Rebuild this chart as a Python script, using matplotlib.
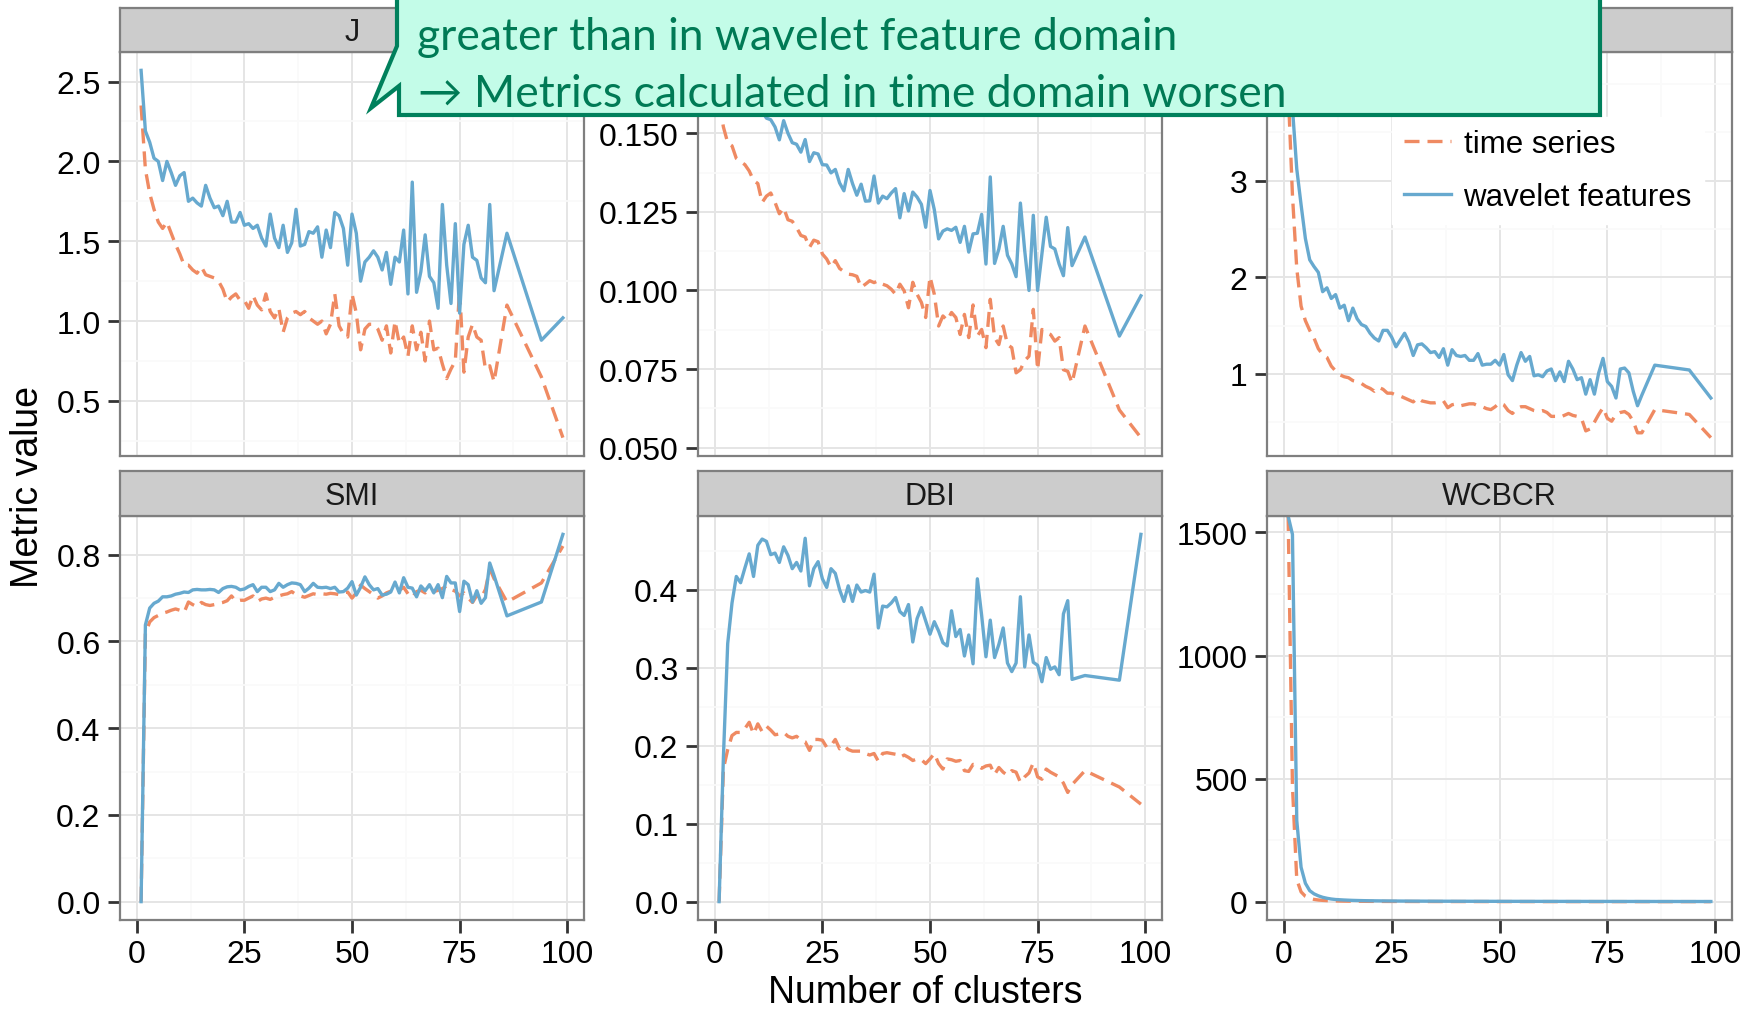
import matplotlib
matplotlib.use('Agg')
import matplotlib.pyplot as plt
from matplotlib.lines import Line2D
from matplotlib.patches import Polygon
from matplotlib.ticker import AutoMinorLocator, FixedLocator
import numpy as np

plt.rcParams['font.family'] = 'Liberation Sans'

W, H = 1757, 1012

# number of clusters
k = list(range(1, 84)) + [86, 94, 99]

j_ts = [2.35, 1.95, 1.80, 1.70, 1.62, 1.58, 1.62, 1.55, 1.48, 1.42,
        1.35, 1.35, 1.32, 1.30, 1.34, 1.29, 1.28, 1.27, 1.25, 1.20,
        1.12, 1.15, 1.17, 1.13, 1.13, 1.08, 1.16, 1.10, 1.07, 1.17,
        1.06, 1.02, 1.08, 0.93, 1.02, 1.05, 1.06, 1.04, 1.06, 1.02,
        1.00, 0.98, 1.00, 0.92, 0.98, 1.17, 0.97, 0.92, 0.90, 1.17,
        1.05, 0.82, 0.95, 0.98, 0.98, 0.95, 0.88, 0.97, 0.80, 1.00,
        0.86, 0.90, 0.78, 0.97, 0.82, 0.93, 0.75, 1.00, 0.82, 0.83,
        0.73, 0.64, 0.70, 0.75, 1.20, 0.68, 0.90, 0.98, 0.90, 0.88,
        0.70, 0.72, 0.62, 1.10, 0.65, 0.27]
j_wf = [2.57, 2.19, 2.12, 2.02, 2.00, 1.88, 2.00, 1.93, 1.85, 1.91,
        1.93, 1.75, 1.77, 1.74, 1.72, 1.85, 1.77, 1.71, 1.72, 1.66,
        1.75, 1.62, 1.62, 1.68, 1.60, 1.61, 1.58, 1.60, 1.52, 1.47,
        1.67, 1.52, 1.46, 1.60, 1.43, 1.49, 1.70, 1.47, 1.48, 1.56,
        1.55, 1.59, 1.40, 1.57, 1.46, 1.68, 1.66, 1.58, 1.35, 1.67,
        1.55, 1.25, 1.37, 1.40, 1.44, 1.40, 1.32, 1.43, 1.23, 1.40,
        1.37, 1.57, 1.17, 1.87, 1.18, 1.31, 1.54, 1.28, 1.24, 1.08,
        1.73, 1.35, 1.11, 1.61, 1.05, 1.48, 1.60, 1.40, 1.38, 1.27,
        1.24, 1.73, 1.19, 1.55, 0.88, 1.02]

m2_ts = [0.160, 0.152, 0.147, 0.146, 0.142, 0.141, 0.140, 0.138, 0.135, 0.134,
         0.128, 0.130, 0.131, 0.128, 0.1244, 0.1263, 0.1225, 0.122, 0.120, 0.1175,
         0.117, 0.1137, 0.116, 0.1155, 0.1116, 0.110, 0.1074, 0.1095, 0.107, 0.106,
         0.1052, 0.105, 0.1045, 0.101, 0.102, 0.1031, 0.1025, 0.1031, 0.102, 0.1015,
         0.1004, 0.0988, 0.102, 0.0999, 0.0945, 0.1026, 0.0988, 0.0962, 0.0914, 0.1044,
         0.0988, 0.0887, 0.0919, 0.0905, 0.093, 0.0914, 0.086, 0.0924, 0.085, 0.0954,
         0.0855, 0.0876, 0.0818, 0.0972, 0.085, 0.0828, 0.0887, 0.0828, 0.0818, 0.0738,
         0.0748, 0.0777, 0.0791, 0.094, 0.0748, 0.0876, 0.0866, 0.086, 0.0839, 0.085,
         0.0748, 0.0743, 0.0706, 0.0887, 0.062, 0.0532]
m2_wf = [0.170, 0.168, 0.167, 0.165, 0.164, 0.163, 0.162, 0.160, 0.159, 0.158,
         0.157, 0.1548, 0.1543, 0.152, 0.1479, 0.154, 0.150, 0.147, 0.1465, 0.144,
         0.148, 0.141, 0.1438, 0.1434, 0.140, 0.1399, 0.1374, 0.1385, 0.1342, 0.1317,
         0.1385, 0.134, 0.1303, 0.1338, 0.1284, 0.1285, 0.1364, 0.1278, 0.130, 0.1292,
         0.131, 0.1324, 0.1231, 0.1308, 0.1253, 0.1313, 0.1297, 0.1274, 0.1201, 0.1318,
         0.1257, 0.1164, 0.1189, 0.1196, 0.1191, 0.1201, 0.1153, 0.1204, 0.1122, 0.118,
         0.1182, 0.1242, 0.1084, 0.1361, 0.1086, 0.1132, 0.1204, 0.1112, 0.1084, 0.1044,
         0.1278, 0.1127, 0.100, 0.1239, 0.100, 0.1116, 0.1233, 0.114, 0.1132, 0.1084,
         0.1047, 0.120, 0.1079, 0.117, 0.0855, 0.0983]

m3_ts = [3.95, 2.85, 2.09, 1.70, 1.55, 1.45, 1.37, 1.26, 1.20, 1.17,
         1.08, 1.03, 0.99, 0.97, 0.96, 0.93, 0.92, 0.90, 0.87, 0.85,
         0.82, 0.86, 0.84, 0.80, 0.80, 0.78, 0.77, 0.75, 0.73, 0.71,
         0.75, 0.72, 0.71, 0.70, 0.70, 0.71, 0.72, 0.65, 0.68, 0.69,
         0.67, 0.68, 0.69, 0.69, 0.67, 0.66, 0.64, 0.63, 0.66, 0.70,
         0.68, 0.62, 0.59, 0.64, 0.66, 0.66, 0.64, 0.62, 0.61, 0.62,
         0.60, 0.56, 0.56, 0.55, 0.57, 0.59, 0.57, 0.56, 0.54, 0.41,
         0.43, 0.50, 0.58, 0.65, 0.54, 0.51, 0.58, 0.60, 0.61, 0.58,
         0.51, 0.39, 0.39, 0.63, 0.58, 0.34]
m3_wf = [4.14, 3.75, 3.12, 2.75, 2.40, 2.18, 2.11, 2.05, 1.85, 1.89,
         1.78, 1.82, 1.68, 1.71, 1.55, 1.68, 1.57, 1.51, 1.49, 1.42,
         1.37, 1.34, 1.45, 1.45, 1.38, 1.28, 1.35, 1.42, 1.33, 1.19,
         1.30, 1.31, 1.27, 1.22, 1.23, 1.17, 1.26, 1.09, 1.25, 1.19,
         1.18, 1.19, 1.14, 1.14, 1.21, 1.09, 1.10, 1.10, 1.14, 1.09,
         1.20, 0.99, 0.93, 1.09, 1.22, 1.13, 1.18, 0.98, 0.99, 0.97,
         1.03, 1.05, 0.93, 1.02, 0.92, 1.13, 1.05, 0.94, 0.96, 0.79,
         0.94, 0.79, 1.01, 1.16, 0.92, 0.87, 0.75, 1.05, 1.06, 1.01,
         0.82, 0.67, 0.78, 1.09, 1.04, 0.75]

smi_ts = [0.0, 0.618, 0.645, 0.655, 0.660, 0.665, 0.668, 0.672, 0.675, 0.672,
          0.667, 0.691, 0.685, 0.680, 0.690, 0.685, 0.683, 0.685, 0.688, 0.690,
          0.694, 0.705, 0.693, 0.695, 0.695, 0.700, 0.705, 0.692, 0.698, 0.700,
          0.697, 0.702, 0.705, 0.708, 0.710, 0.715, 0.708, 0.705, 0.702, 0.706,
          0.710, 0.708, 0.710, 0.709, 0.711, 0.710, 0.708, 0.712, 0.714, 0.700,
          0.712, 0.730, 0.722, 0.715, 0.708, 0.700, 0.705, 0.712, 0.716, 0.722,
          0.718, 0.725, 0.710, 0.702, 0.715, 0.718, 0.712, 0.720, 0.715, 0.718,
          0.722, 0.728, 0.720, 0.716, 0.705, 0.712, 0.700, 0.690, 0.706, 0.700,
          0.720, 0.768, 0.745, 0.691, 0.735, 0.820]
smi_wf = [0.0, 0.638, 0.677, 0.688, 0.693, 0.703, 0.703, 0.705, 0.709, 0.711,
          0.714, 0.713, 0.719, 0.720, 0.719, 0.719, 0.720, 0.719, 0.713, 0.722,
          0.726, 0.727, 0.725, 0.719, 0.721, 0.727, 0.731, 0.715, 0.725, 0.725,
          0.715, 0.719, 0.734, 0.725, 0.731, 0.735, 0.734, 0.731, 0.715, 0.723,
          0.734, 0.725, 0.724, 0.725, 0.722, 0.725, 0.714, 0.715, 0.723, 0.738,
          0.707, 0.725, 0.749, 0.731, 0.719, 0.722, 0.707, 0.709, 0.714, 0.737,
          0.712, 0.747, 0.725, 0.723, 0.703, 0.728, 0.717, 0.731, 0.712, 0.731,
          0.701, 0.750, 0.735, 0.735, 0.669, 0.739, 0.731, 0.691, 0.717, 0.688,
          0.701, 0.781, 0.752, 0.659, 0.691, 0.847]

dbi_ts = [0.0, 0.17, 0.195, 0.213, 0.217, 0.217, 0.222, 0.230, 0.215, 0.228,
          0.218, 0.225, 0.220, 0.214, 0.215, 0.217, 0.212, 0.210, 0.212, 0.207,
          0.205, 0.194, 0.208, 0.208, 0.207, 0.198, 0.200, 0.208, 0.196, 0.200,
          0.195, 0.193, 0.193, 0.193, 0.190, 0.188, 0.190, 0.180, 0.190, 0.191,
          0.190, 0.189, 0.185, 0.188, 0.185, 0.181, 0.183, 0.182, 0.177, 0.183,
          0.190, 0.177, 0.170, 0.183, 0.182, 0.180, 0.181, 0.168, 0.167, 0.176,
          0.175, 0.171, 0.174, 0.175, 0.163, 0.172, 0.166, 0.162, 0.168, 0.166,
          0.153, 0.160, 0.165, 0.178, 0.160, 0.157, 0.170, 0.166, 0.163, 0.160,
          0.152, 0.140, 0.150, 0.168, 0.147, 0.125]
dbi_wf = [0.0, 0.185, 0.331, 0.383, 0.417, 0.409, 0.428, 0.446, 0.417, 0.457,
          0.465, 0.462, 0.445, 0.447, 0.435, 0.455, 0.444, 0.427, 0.435, 0.424,
          0.466, 0.405, 0.427, 0.436, 0.414, 0.403, 0.427, 0.421, 0.400, 0.385,
          0.405, 0.385, 0.406, 0.397, 0.399, 0.397, 0.420, 0.351, 0.379, 0.378,
          0.383, 0.390, 0.372, 0.367, 0.381, 0.333, 0.363, 0.377, 0.360, 0.343,
          0.359, 0.347, 0.332, 0.328, 0.373, 0.340, 0.349, 0.315, 0.342, 0.305,
          0.414, 0.367, 0.314, 0.361, 0.313, 0.330, 0.351, 0.306, 0.295, 0.306,
          0.391, 0.301, 0.342, 0.307, 0.303, 0.282, 0.313, 0.298, 0.301, 0.291,
          0.369, 0.386, 0.285, 0.290, 0.284, 0.471]

# first value is infinite -> drawn at the panel edge like ggplot does
wc_ts = [np.inf, 470, 90, 40, 22, 14, 9.5, 7.0, 5.5, 4.5,
         3.8, 3.2, 2.8, 2.5, 2.2, 2.0, 1.85, 1.7, 1.6, 1.5,
         1.4, 1.3, 1.25, 1.2, 1.15, 1.1, 1.05, 1.0, 0.98, 0.95,
         0.92, 0.9, 0.88, 0.86, 0.84, 0.82, 0.8, 0.78, 0.77, 0.75,
         0.74, 0.73, 0.72, 0.7, 0.69, 0.68, 0.67, 0.66, 0.65, 0.64,
         0.63, 0.62, 0.61, 0.6, 0.6, 0.59, 0.58, 0.57, 0.57, 0.56,
         0.55, 0.55, 0.54, 0.53, 0.53, 0.52, 0.52, 0.51, 0.5, 0.5,
         0.49, 0.49, 0.48, 0.48, 0.47, 0.47, 0.46, 0.46, 0.45, 0.45,
         0.44, 0.44, 0.43, 0.42, 0.4, 0.38]
wc_wf = [np.inf, 1492, 330, 140, 75, 45, 32, 24, 18, 14,
         11, 9.0, 8.0, 7.0, 6.2, 5.5, 5.0, 4.6, 4.2, 3.9,
         3.7, 3.5, 3.3, 3.1, 3.0, 2.9, 2.8, 2.7, 2.6, 2.5,
         2.45, 2.4, 2.3, 2.25, 2.2, 2.15, 2.1, 2.05, 2.0, 1.95,
         1.9, 1.9, 1.85, 1.8, 1.8, 1.75, 1.7, 1.7, 1.65, 1.65,
         1.6, 1.6, 1.55, 1.55, 1.5, 1.5, 1.5, 1.45, 1.45, 1.4,
         1.4, 1.4, 1.35, 1.35, 1.35, 1.3, 1.3, 1.3, 1.25, 1.25,
         1.25, 1.2, 1.2, 1.2, 1.2, 1.15, 1.15, 1.15, 1.1, 1.1,
         1.1, 1.1, 1.05, 1.0, 0.95, 0.9]

panels = [
    ('J', j_ts, j_wf, [0.5, 1.0, 1.5, 2.0, 2.5], '{:.1f}'),
    ('', m2_ts, m2_wf, [0.050, 0.075, 0.100, 0.125, 0.150], '{:.3f}'),
    ('', m3_ts, m3_wf, [1, 2, 3], '{:.0f}'),
    ('SMI', smi_ts, smi_wf, [0.0, 0.2, 0.4, 0.6, 0.8], '{:.1f}'),
    ('DBI', dbi_ts, dbi_wf, [0.0, 0.1, 0.2, 0.3, 0.4], '{:.1f}'),
    ('WCBCR', wc_ts, wc_wf, [0, 500, 1000, 1500], '{:.0f}'),
]

C_TS = '#EF8A62'
C_WF = '#67A9CF'
GREY50 = '#7F7F7F'
LW = 2.4
DASH = (0, (4.5, 2.4))

cols = [(120, 584), (698, 1162), (1267, 1732)]
rows = [(9, 53, 457), (472, 517, 921)]  # strip top, panel top, panel bottom

fig = plt.figure(figsize=(W / 100, H / 100), dpi=100)


def px_axes(l, t, r, b):
    return fig.add_axes([l / W, 1 - b / H, (r - l) / W, (b - t) / H])


for i, (name, ts, wf, yt, fmt) in enumerate(panels):
    r, c = divmod(i, 3)
    l, rr = cols[c]
    st, pt, pb = rows[r]

    ax = px_axes(l, pt, rr, pb)
    ts = np.array(ts, dtype=float)
    wf = np.array(wf, dtype=float)
    fin = np.concatenate([ts[np.isfinite(ts)], wf[np.isfinite(wf)]])
    lo, hi = fin.min(), fin.max()
    pad = 0.05 * (hi - lo)
    ylo, yhi = lo - pad, hi + pad
    ts[np.isinf(ts)] = yhi
    wf[np.isinf(wf)] = yhi

    ax.plot(k, ts, color=C_TS, lw=LW, linestyle=DASH)
    ax.plot(k, wf, color=C_WF, lw=LW)
    ax.set_xlim(1 - 0.05 * 98, 99 + 0.05 * 98)
    ax.set_ylim(ylo, yhi)

    ax.xaxis.set_major_locator(FixedLocator([0, 25, 50, 75, 100]))
    ax.xaxis.set_minor_locator(AutoMinorLocator(2))
    ax.yaxis.set_major_locator(FixedLocator(yt))
    ax.yaxis.set_minor_locator(AutoMinorLocator(2))
    ax.set_yticklabels([fmt.format(v) for v in yt])
    ax.grid(which='major', color='#E5E5E5', lw=1.4)
    ax.grid(which='minor', color='#FAFAFA', lw=1.2)
    ax.set_axisbelow(True)
    for s in ax.spines.values():
        s.set_color(GREY50)
        s.set_linewidth(1.6)
    ax.tick_params(which='major', length=9, width=2, color='#333333',
                   labelsize=23, labelcolor='black', pad=5)
    ax.tick_params(which='minor', length=0)
    if r == 0:
        ax.tick_params(axis='x', which='both', length=0, labelbottom=False)
    else:
        ax.set_xticklabels(['0', '25', '50', '75', '100'])

    sx = px_axes(l, st, rr, pt)
    sx.set_facecolor('#CCCCCC')
    sx.set_xticks([])
    sx.set_yticks([])
    for s in sx.spines.values():
        s.set_color(GREY50)
        s.set_linewidth(1.6)
    sx.text(0.5, 0.45, name, ha='center', va='center', fontsize=22,
            color='#1A1A1A', transform=sx.transAxes)

fig.text(28 / W, 1 - 487 / H, 'Metric value', rotation=90, ha='center',
         va='center', fontsize=27)
fig.text(925 / W, 1 - 993 / H, 'Number of clusters', ha='center',
         va='center', fontsize=27)

handles = [Line2D([], [], color=C_TS, lw=LW, linestyle=DASH),
           Line2D([], [], color=C_WF, lw=LW)]
fig.legend(handles, ['time series', 'wavelet features'], loc='upper left',
           bbox_to_anchor=(1376 / W, 1 - 102 / H), frameon=True,
           facecolor='white', edgecolor='white', framealpha=1,
           fancybox=False, fontsize=22.5, handlelength=1.5,
           handletextpad=0.4, labelspacing=0.72, borderpad=0.4)

# callout box on top of everything
ov = fig.add_axes([0, 0, 1, 1], zorder=10)
ov.set_xlim(0, W)
ov.set_ylim(H, 0)
ov.axis('off')
pts = [(397, -20), (1600, -20), (1600, 116), (399, 116), (399, 87),
       (371, 109), (397, 47)]
ov.add_patch(Polygon(pts, closed=True, facecolor='#C3FCE8',
                     edgecolor='#00805C', lw=3, joinstyle='miter'))
green_txt = '#007A55'
ov.text(417, 50, 'greater than in wavelet feature domain', fontsize=32,
        color=green_txt, family=['Lato', 'DejaVu Sans'], va='baseline')
ov.text(418, 107, '\u2192 Metrics calculated in time domain worsen',
        fontsize=32, color=green_txt, family=['Lato', 'DejaVu Sans'],
        va='baseline')

fig.savefig('out.png', dpi=100)
